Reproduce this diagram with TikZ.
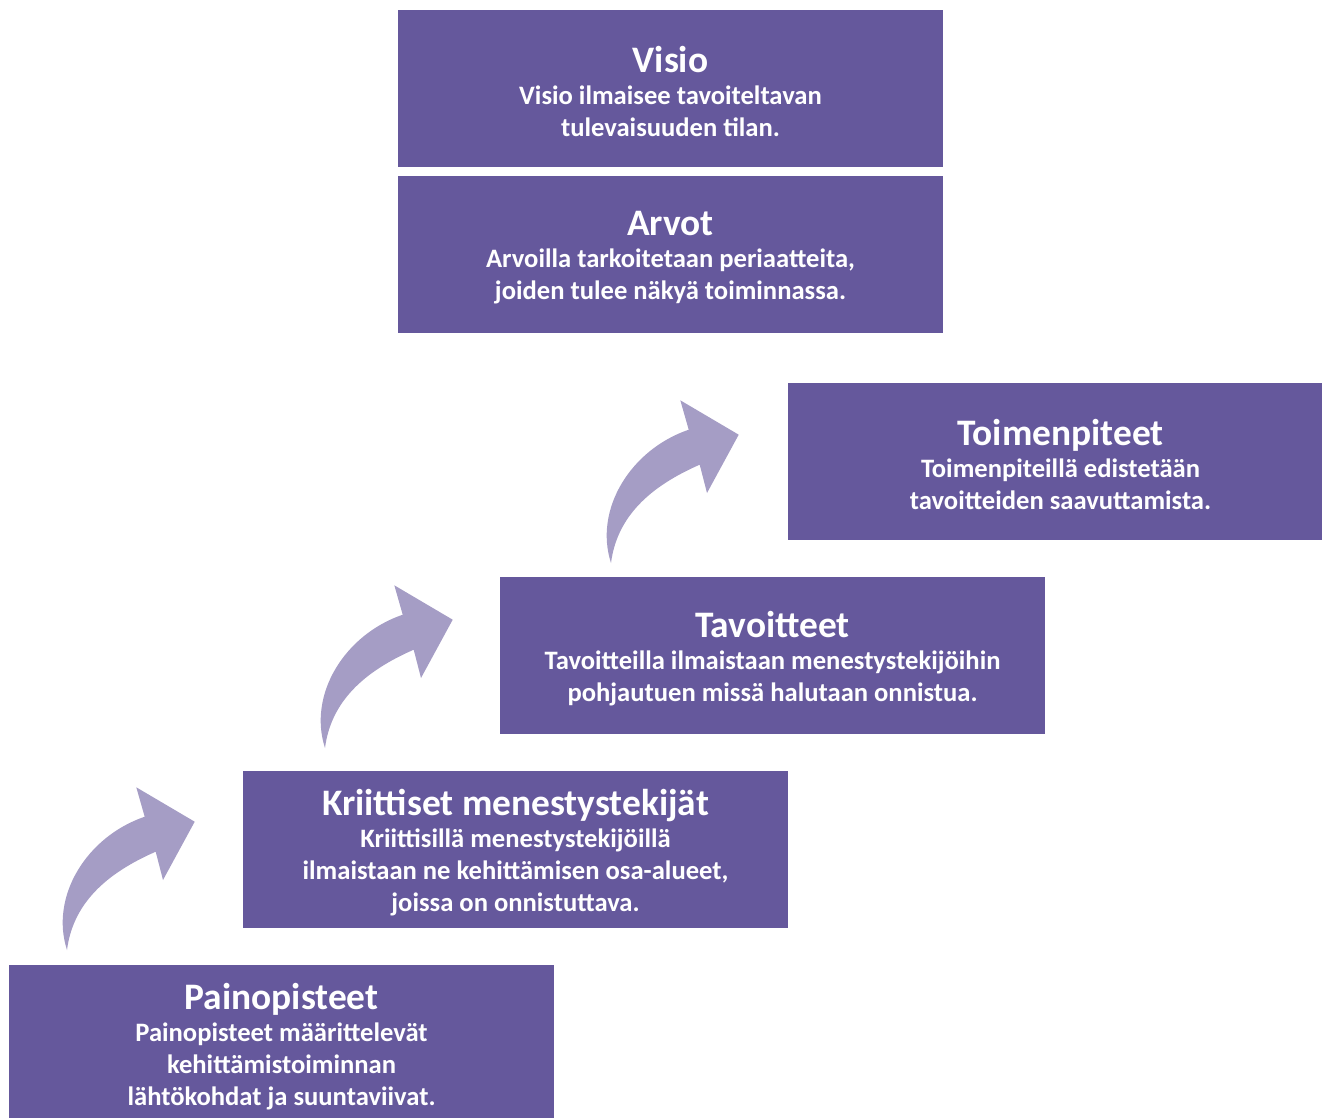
\documentclass[tikz,border=0pt]{standalone}
\usepackage{fontspec}
\setmainfont{Carlito}
\definecolor{boxc}{HTML}{65589C}
\definecolor{arrc}{HTML}{A59DC5}
\tikzset{
  card/.style={fill=boxc, draw=none, minimum width=272.5pt, minimum height=78.5pt, inner sep=0pt},
  cardtext/.style={text=white, align=center, inner sep=0pt,
    font=\fontsize{13.3}{16}\selectfont\bfseries},
  curvarrow/.pic={
    \fill[arrc] (0,0) .. controls (-17.3,-53.3) and (19.3,-113.3) .. (77.7,-133.3)
      -- (69.3,-162.7) -- (127.7,-128.3) -- (96,-70) -- (88.7,-98.3)
      .. controls (39.3,-76.7) and (6,-46.7) .. (0,0) -- cycle;
  }
}
\newcommand{\cardtitle}[1]{{\fontsize{18.7}{20}\selectfont #1}\\[0pt]}
\begin{document}
\begin{tikzpicture}[x=0.5pt,y=-0.5pt]
\useasboundingbox (0,0) rectangle (1322,1118);
\node[card] (visio) at (670.5,88.5) {};
\node[card] (arvot) at (670.5,254.5) {};
\node[card] (toimen) at (1060.5,461.5) {};
\node[card] (tavoit) at (772.5,655.5) {};
\node[card] (kriit) at (515.5,849.5) {};
\node[card] (paino) at (281.5,1043.5) {};
\node[cardtext] (visio-t) at ([yshift=-1.5pt]visio.center) {\cardtitle{Visio}Visio ilmaisee tavoiteltavan\\tulevaisuuden tilan.};
\node[cardtext] (arvot-t) at ([yshift=-1.5pt]arvot.center) {\cardtitle{Arvot}Arvoilla tarkoitetaan periaatteita,\\joiden tulee näkyä toiminnassa.};
\node[cardtext] (toimen-t) at ([yshift=-1.5pt]toimen.center) {\cardtitle{Toimenpiteet}Toimenpiteillä edistetään\\tavoitteiden saavuttamista.};
\node[cardtext] (tavoit-t) at ([yshift=-1.5pt]tavoit.center) {\cardtitle{Tavoitteet}Tavoitteilla ilmaistaan menestystekijöihin\\pohjautuen missä halutaan onnistua.};
\node[cardtext] (kriit-t) at ([yshift=-1.5pt]kriit.center) {\cardtitle{Kriittiset menestystekijät}Kriittisillä menestystekijöillä\\ilmaistaan ne kehittämisen osa-alueet,\\joissa on onnistuttava.};
\node[cardtext] (paino-t) at ([yshift=-1.5pt]paino.center) {\cardtitle{Painopisteet}Painopisteet määrittelevät\\kehittämistoiminnan\\lähtökohdat ja suuntaviivat.};
\coordinate (a1) at (67,950);
\coordinate (a2) at (325,748);
\coordinate (a3) at (611,563);
\pic at (a1) {curvarrow};
\pic at (a2) {curvarrow};
\pic at (a3) {curvarrow};
\end{tikzpicture}
\end{document}
